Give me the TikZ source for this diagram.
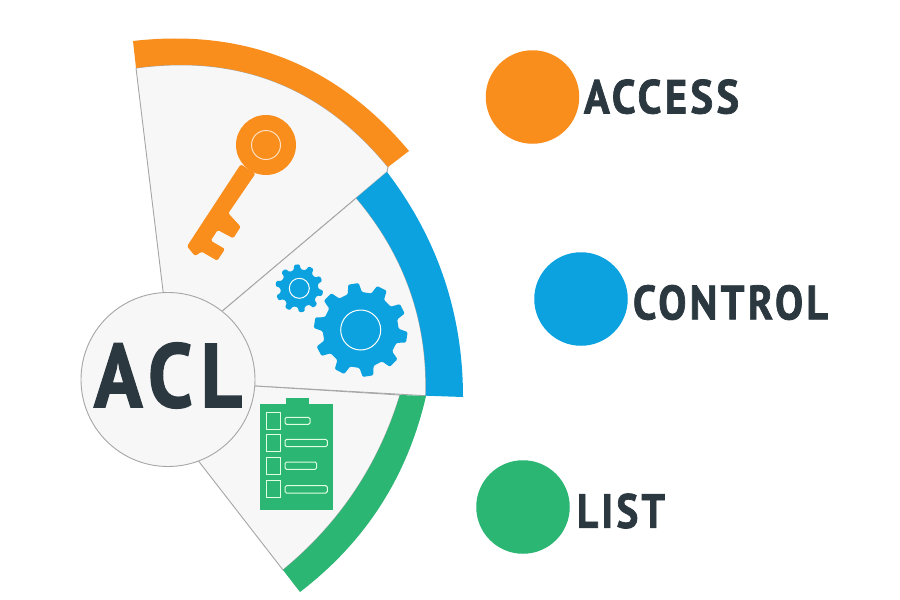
\documentclass[tikz,border=0pt]{standalone}
\usepackage{graphicx}
\usepackage{fontspec}
\usetikzlibrary{calc}
\setmainfont{PT Sans}
\definecolor{orangeC}{HTML}{F98E1D}
\definecolor{blueC}{HTML}{0BA2DF}
\definecolor{greenC}{HTML}{2BB673}
\definecolor{wedgeC}{HTML}{F7F7F7}
\definecolor{lineC}{HTML}{A6A6A6}
\definecolor{darkC}{HTML}{2B3840}
\tikzset{
  wedgebox/.style={fill=wedgeC,draw=lineC,line width=0.9pt,line join=round},
  dot/.style={circle,inner sep=0pt,minimum size=93.5pt},
  word/.style={inner sep=0pt,text=darkC},
  clipline/.style={draw=green!12!white,line width=1pt}
}
\newcommand{\wordbox}[4]{\resizebox*{#1pt}{#2pt}{\bfseries\addfontfeature{LetterSpace=#3,FakeBold=1.6}#4}}
\newcommand{\qc}[3]{.. controls ($(#1)!.6667!(#2)$) and ($(#3)!.6667!(#2)$) .. (#3)}
\newcommand{\gearshape}[6]{% cx cy root outer teeth phase
  \fill[blueC,rounded corners=1.2pt,shift={(#1,#2)}]
    ({#6-0.30*360/#5}:#3)
    \foreach \i in {1,...,#5}{
      -- ({#6+(\i-1)*360/#5-0.30*360/#5}:#3)
      -- ({#6+(\i-1)*360/#5-0.18*360/#5}:#4)
      -- ({#6+(\i-1)*360/#5+0.18*360/#5}:#4)
      -- ({#6+(\i-1)*360/#5+0.30*360/#5}:#3)
    } -- cycle;
}
\begin{document}
\begin{tikzpicture}[x=1pt,y=-1pt]
\path[use as bounding box,fill=white] (0,0) rectangle (900,600);
% wedges
\draw[wedgebox] (136,68) \qc{136,68}{289.7,46.8}{388,167} -- (387,172) -- (220,313) -- (164,299) -- cycle;
\draw[wedgebox] (356.3,198) \qc{356.3,198}{429,284}{425.7,395.7} -- (245,385.4) -- (220,313) -- cycle;
\draw[wedgebox] (400,395) \qc{400,395}{368,500}{283,570} -- (195,456.5) -- (245,385.4) -- cycle;
% bands
\fill[orangeC] (133,41) \qc{133,41}{300.6,21.7}{409,151} -- (388,167) \qc{388,167}{289.7,46.8}{136,68} -- cycle;
\fill[blueC] (387,172) \qc{387,172}{462.9,271.7}{463,397} -- (425.7,395.7) \qc{425.7,395.7}{429,284}{356.3,198} -- cycle;
\fill[greenC] (426,396) \qc{426,396}{398.3,516.7}{300,592} -- (283,570) \qc{283,570}{368,500}{400,395} -- cycle;
% key
\fill[orangeC,rounded corners=1.5pt] (240.7,164.3) -- (187,246.3) -- (195,256) -- (201.7,251.7) -- (217.3,260.7) -- (225,249) -- (210.7,240.7) -- (217.7,230) -- (233.3,238.3) -- (240.7,226.7) -- (228.3,213.3) -- (255.5,173.5) -- cycle;
\fill[orangeC] (266,145) circle[radius=30];
\draw[draw=orange!25!white,line width=1pt] (266,145) circle[radius=14.5];
% gears
\gearshape{299.3}{288.3}{19}{24}{10}{-96}
\draw[draw=white,line width=1pt] (299.3,288.3) circle[radius=10];
\gearshape{360.7}{330}{38}{47}{10}{-99}
\draw[draw=white,line width=1pt] (360.7,330) circle[radius=20];
% clipboard
\fill[greenC] (286,397.7) rectangle (309.3,405);
\fill[greenC] (260,404.3) rectangle (332.7,510.3);
\foreach \ya/\yb in {412.3/429,434.3/451,457/474,480.7/497.7}
  \draw[clipline] (266.7,\ya) rectangle (280,\yb);
\draw[clipline,rounded corners=1.5pt] (285,417.3) rectangle (310,424.3);
\draw[clipline,rounded corners=1.5pt] (285,439.3) rectangle (327.3,446.7);
\draw[clipline,rounded corners=1.5pt] (285,462) rectangle (316.7,469.3);
\draw[clipline,rounded corners=1.5pt] (285,485.7) rectangle (327.3,493);
% hub
\node[circle,inner sep=0pt,minimum size=174pt,fill=wedgeC,draw=lineC,line width=0.9pt] (hub) at (168,379.5) {};
\node[word] (acl) at (168,375.5) {\wordbox{148}{65.7}{10}{ACL}};
% legend
\node[dot,fill=orangeC] (dotA) at (532.5,97) {};
\node[dot,fill=blueC] (dotC) at (581,299) {};
\node[dot,fill=greenC] (dotL) at (523,507) {};
\node[word] (access) at (661.5,96.7) {\wordbox{155}{34.7}{8}{ACCESS}};
\node[word] (control) at (730.5,302.5) {\wordbox{195}{35}{8}{CONTROL}};
\node[word] (list) at (621,511) {\wordbox{88}{35}{8}{LIST}};
\end{tikzpicture}
\end{document}
